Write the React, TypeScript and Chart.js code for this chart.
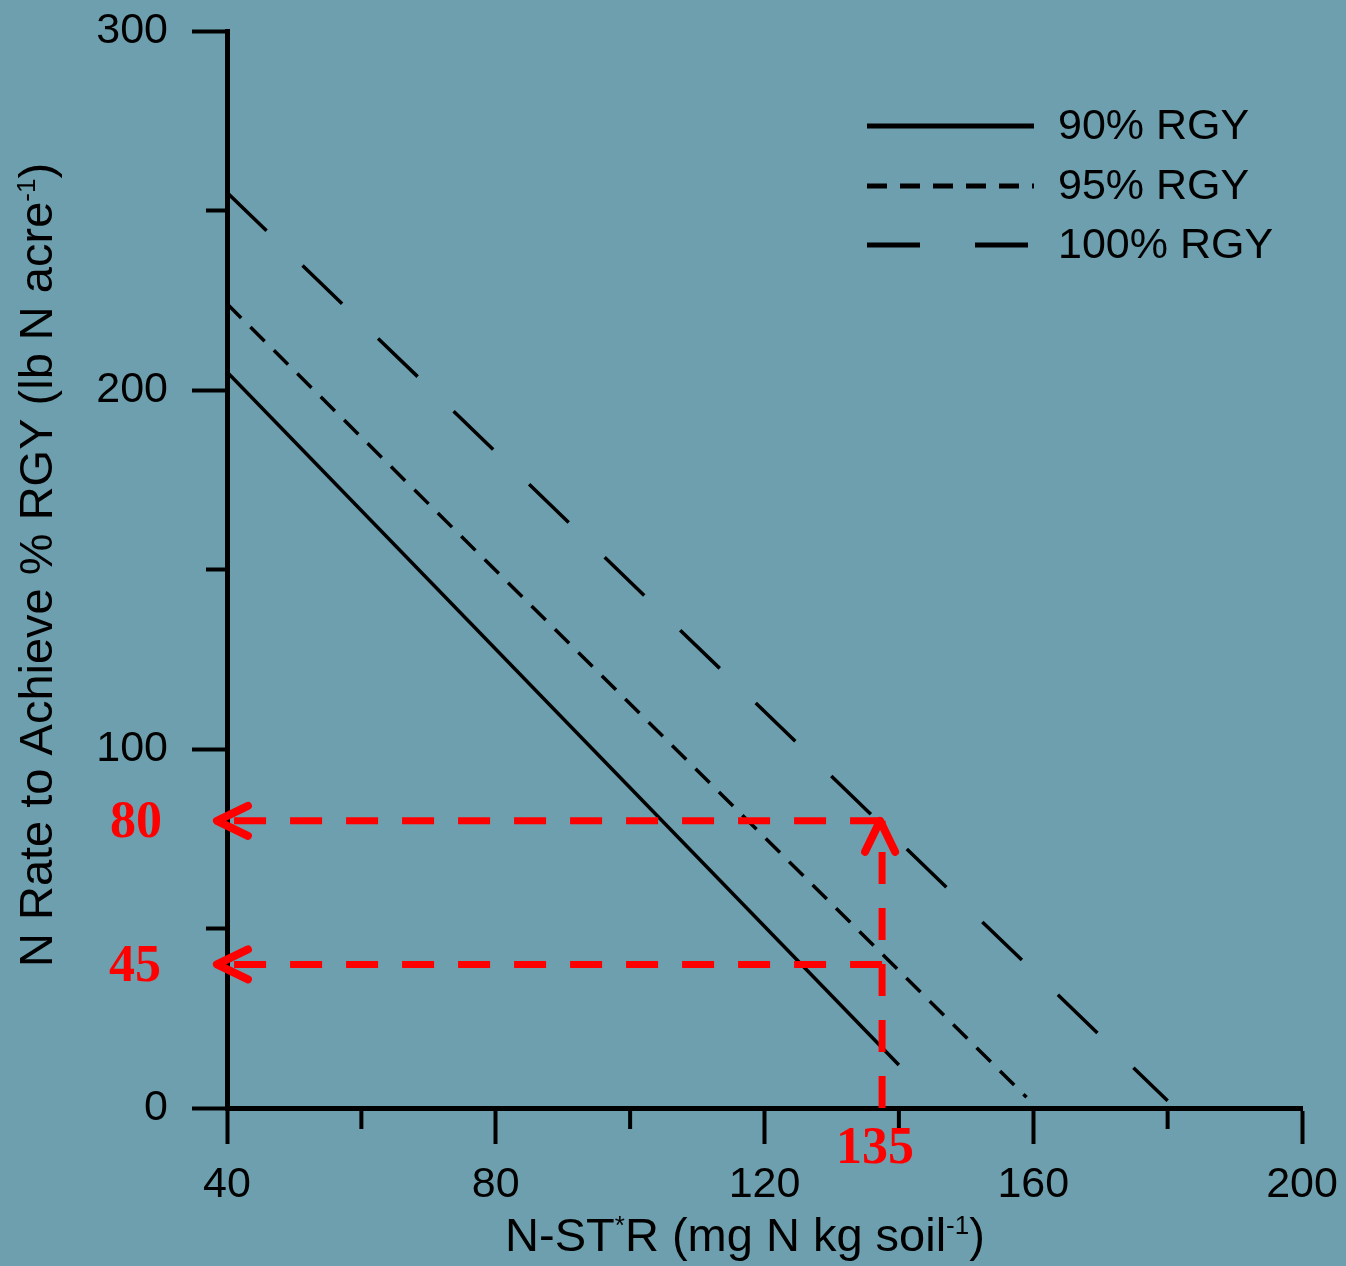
import React, { useEffect, useRef } from 'react';
import { Chart, registerables } from 'chart.js';

Chart.register(...registerables);

// ---------- data ----------
const xMin = 40;
const xMax = 200;
const xStep = 20;
const yMin = 0;
const yMax = 300;
const yStep = 50;
const xLabelTicks = [40, 80, 120, 160, 200];
const yLabelTicks = [0, 100, 200, 300];

const seriesNames = ['90% RGY', '95% RGY', '100% RGY'];
const rgy90X = [40, 140];
const rgy90Y = [205, 12];
const rgy95X = [40, 159];
const rgy95Y = [224, 3];
const rgy100X = [40, 180];
const rgy100Y = [255, 2];

const markX = 137.5;
const markHighY = 80;
const markLowY = 40;
const arrowStartX = 38.5;
const markLabels = ['80', '45', '135'];

const xTitleSegs: [string, boolean][] = [['N-ST', false], ['*', true], ['R (mg N kg soil', false], ['-1', true], [')', false]];
const yTitleSegs: [string, boolean][] = [['N Rate to Achieve % RGY (lb N acre', false], ['-1', true], [')', false]];

// ---------- styles ----------
const BG = '#6e9fae';
const RED = '#ff0000';
const SANS = '"Liberation Sans", Arial, sans-serif';
const SERIF = '"Liberation Serif", "Times New Roman", serif';
const seriesDash = [[], [20, 13], [55, 50]];
const legendDash = [[], [20, 13], [53, 55]];
const redDash = [32, 24];

const pts = (xs: number[], ys: number[]) => xs.map((x, i) => ({ x, y: ys[i] }));

function drawRich(ctx: CanvasRenderingContext2D, segs: [string, boolean][], cx: number, baseY: number, size: number) {
  const main = `${size}px ${SANS}`;
  const sup = `${Math.round(size * 0.55)}px ${SANS}`;
  let total = 0;
  const widths = segs.map(([t, s]) => {
    ctx.font = s ? sup : main;
    const w = ctx.measureText(t).width;
    total += w;
    return w;
  });
  let x = cx - total / 2;
  ctx.textAlign = 'left';
  ctx.textBaseline = 'alphabetic';
  segs.forEach(([t, s], i) => {
    ctx.font = s ? sup : main;
    ctx.fillText(t, x, s ? baseY - size * 0.36 : baseY);
    x += widths[i];
  });
}

const decorPlugin = {
  id: 'decor',
  beforeDraw(chart: any) {
    const ctx = chart.ctx as CanvasRenderingContext2D;
    ctx.save();
    ctx.fillStyle = BG;
    ctx.fillRect(0, 0, chart.width, chart.height);
    ctx.restore();
  },
  afterDraw(chart: any) {
    const ctx = chart.ctx as CanvasRenderingContext2D;
    const xs = chart.scales.x;
    const ys = chart.scales.y;
    const left = chart.chartArea.left;
    const bottom = chart.chartArea.bottom;
    ctx.save();
    // minor ticks
    ctx.strokeStyle = '#000';
    ctx.lineWidth = 4;
    for (let v = xMin; v <= xMax; v += xStep) {
      if (xLabelTicks.includes(v)) continue;
      const px = xs.getPixelForValue(v);
      ctx.beginPath();
      ctx.moveTo(px, bottom);
      ctx.lineTo(px, bottom + 21);
      ctx.stroke();
    }
    for (let v = yMin; v <= yMax; v += yStep) {
      if (yLabelTicks.includes(v)) continue;
      const py = ys.getPixelForValue(v);
      ctx.beginPath();
      ctx.moveTo(left, py);
      ctx.lineTo(left - 21, py);
      ctx.stroke();
    }

    // titles
    ctx.fillStyle = '#000';
    drawRich(ctx, xTitleSegs, 745, 1251, 47);
    ctx.save();
    ctx.translate(52, 565);
    ctx.rotate(-Math.PI / 2);
    drawRich(ctx, yTitleSegs, 0, 0, 47);
    ctx.restore();

    // legend
    const ly = [126, 186, 245];
    seriesNames.forEach((name, i) => {
      ctx.save();
      ctx.strokeStyle = '#000';
      ctx.lineWidth = 5;
      ctx.setLineDash(legendDash[i]);
      ctx.beginPath();
      ctx.moveTo(867, ly[i]);
      ctx.lineTo(1034, ly[i]);
      ctx.stroke();
      ctx.restore();
      ctx.font = `43px ${SANS}`;
      ctx.textAlign = 'left';
      ctx.textBaseline = 'middle';
      ctx.fillStyle = '#000';
      ctx.fillText(name, 1058, ly[i] + 1);
    });

    // red arrow heads
    ctx.strokeStyle = RED;
    ctx.lineWidth = 8;
    ctx.lineCap = 'round';
    ctx.lineJoin = 'round';
    const tipX = xs.getPixelForValue(arrowStartX);
    [markHighY, markLowY].forEach((v) => {
      const py = ys.getPixelForValue(v);
      ctx.beginPath();
      ctx.moveTo(tipX + 31, py - 15);
      ctx.lineTo(tipX, py);
      ctx.lineTo(tipX + 31, py + 15);
      ctx.stroke();
    });
    const vx = xs.getPixelForValue(markX) - 2;
    const vy = ys.getPixelForValue(markHighY);
    ctx.beginPath();
    ctx.moveTo(vx - 15, vy + 31);
    ctx.lineTo(vx, vy);
    ctx.lineTo(vx + 15, vy + 31);
    ctx.stroke();

    // red labels
    ctx.fillStyle = RED;
    ctx.font = `bold 52px ${SERIF}`;
    ctx.textAlign = 'center';
    ctx.textBaseline = 'middle';
    ctx.fillText(markLabels[0], left - 91, ys.getPixelForValue(markHighY) + 3);
    ctx.fillText(markLabels[1], left - 92, ys.getPixelForValue(markLowY) + 3);
    ctx.fillText(markLabels[2], xs.getPixelForValue(markX) - 7, bottom + 42);
    ctx.restore();
  },
};

export default function App() {
  const ref = useRef<HTMLCanvasElement | null>(null);
  useEffect(() => {
    document.body.style.margin = '0';
    document.body.style.background = BG;
    const canvas = ref.current;
    if (!canvas) return;
    const redLine = {
      borderColor: RED,
      borderWidth: 7,
      borderDash: redDash,
      pointRadius: 0,
      fill: false,
      clip: false as any,
      order: 0,
    };
    const blackLine = (i: number) => ({
      borderColor: '#000',
      borderWidth: 3.5,
      borderDash: seriesDash[i],
      pointRadius: 0,
      fill: false,
      order: 1,
    });
    const chart = new Chart(canvas, {
      type: 'line',
      data: {
        datasets: [
          { label: seriesNames[0], data: pts(rgy90X, rgy90Y), ...blackLine(0) },
          { label: seriesNames[1], data: pts(rgy95X, rgy95Y), ...blackLine(1) },
          { label: seriesNames[2], data: pts(rgy100X, rgy100Y), ...blackLine(2) },
          { label: 'high', data: [{ x: markX, y: markHighY }, { x: arrowStartX, y: markHighY }], ...redLine },
          { label: 'low', data: [{ x: markX, y: markLowY }, { x: arrowStartX, y: markLowY }], ...redLine },
          { label: 'vert', data: [{ x: markX, y: yMin }, { x: markX, y: markHighY }], ...redLine },
        ],
      },
      options: {
        animation: false,
        responsive: false,
        maintainAspectRatio: false,
        layout: { padding: { left: 0, right: 44, top: 31, bottom: 0 } },
        plugins: { legend: { display: false }, tooltip: { enabled: false }, title: { display: false } },
        elements: { line: { tension: 0 } },
        scales: {
          x: {
            type: 'linear',
            min: xMin,
            max: xMax,
            afterFit: (s: any) => {
              s.height = 158;
              s.paddingLeft = 0;
              s.paddingRight = 0;
            },
            ticks: {
              stepSize: xStep,
              autoSkip: false,
              maxRotation: 0,
              padding: 15,
              color: '#000',
              font: { family: SANS, size: 43 },
              callback: (v: any) => (xLabelTicks.includes(Number(v)) ? String(v) : ''),
            },
            grid: {
              display: true,
              drawOnChartArea: false,
              drawTicks: true,
              tickLength: 36,
              tickWidth: 4,
              tickColor: (c: any) => (c.tick && xLabelTicks.includes(c.tick.value) ? '#000' : 'rgba(0,0,0,0)'),
            },
            border: { display: true, color: '#000', width: 5 },
          },
          y: {
            type: 'linear',
            min: yMin,
            max: yMax,
            afterFit: (s: any) => {
              s.width = 227;
              s.paddingTop = 0;
              s.paddingBottom = 0;
            },
            ticks: {
              stepSize: yStep,
              autoSkip: false,
              padding: 24,
              color: '#000',
              font: { family: SANS, size: 43 },
              callback: (v: any) => (yLabelTicks.includes(Number(v)) ? String(v) : ''),
            },
            grid: {
              display: true,
              drawOnChartArea: false,
              drawTicks: true,
              tickLength: 35,
              tickWidth: 4,
              tickColor: (c: any) => (c.tick && yLabelTicks.includes(c.tick.value) ? '#000' : 'rgba(0,0,0,0)'),
            },
            border: { display: true, color: '#000', width: 5 },
          },
        },
      },
      plugins: [decorPlugin],
    } as any);
    return () => chart.destroy();
  }, []);
  return <canvas ref={ref} width={1346} height={1266} style={{ display: 'block' }} />;
}
